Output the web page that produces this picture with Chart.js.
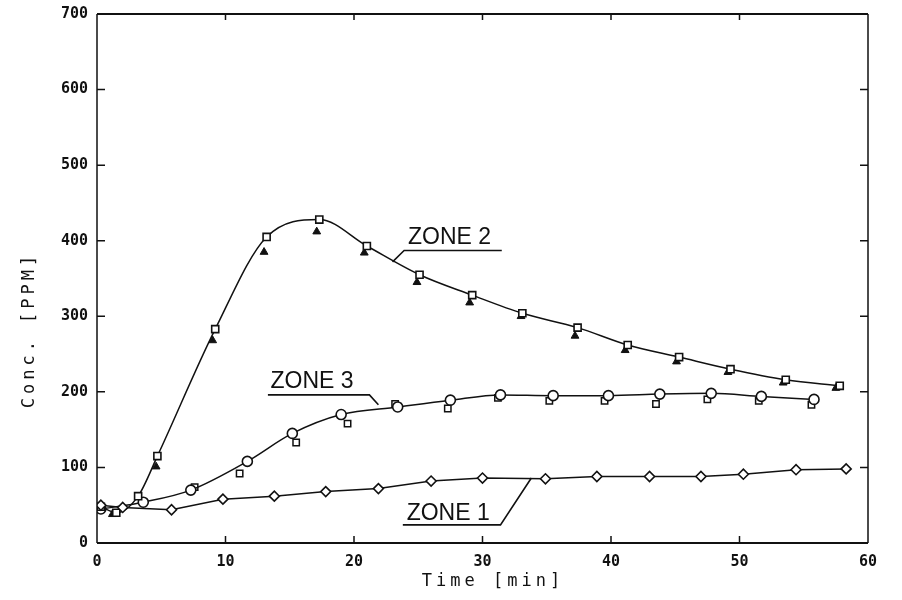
<!DOCTYPE html>
<html>
<head>
<meta charset="utf-8">
<script src="https://cdn.jsdelivr.net/npm/chart.js@4"></script>
<style>
  html, body { margin: 0; padding: 0; background: #fff; }
  #wrap { width: 902px; height: 600px; }
</style>
</head>
<body>
<div id="wrap"><canvas id="conc"></canvas></div>
<script>
// time (min) and concentration (ppm)
const timeZone1 = [0.3, 2.0, 5.8, 9.8, 13.8, 17.8, 21.9, 26.0, 30.0, 34.9, 38.9, 43.0, 47.0, 50.3, 54.4, 58.3];
const concZone1 = [50, 47, 44, 58, 62, 68, 72, 82, 86, 85, 88, 88, 88, 91, 97, 98];

const timeZone2 = [0.3, 1.5, 3.2, 4.7, 9.2, 13.2, 17.3, 21.0, 25.1, 29.2, 33.1, 37.4, 41.3, 45.3, 49.3, 53.6, 57.8];
const concZone2 = [48, 40, 62, 115, 283, 405, 428, 393, 355, 328, 304, 285, 262, 246, 230, 216, 208];
const timeZone2b = [1.2, 4.6, 9.0, 13.0, 17.1, 20.8, 24.9, 29.0, 33.0, 37.2, 41.1, 45.1, 49.1, 53.4, 57.5];
const concZone2b = [38, 101, 268, 385, 412, 384, 345, 318, 300, 274, 255, 240, 226, 212, 205];

const timeZone3 = [0.3, 3.6, 7.3, 11.7, 15.2, 19.0, 23.4, 27.5, 31.4, 35.5, 39.8, 43.8, 47.8, 51.7, 55.8];
const concZone3 = [45, 54, 70, 108, 145, 170, 180, 189, 196, 195, 195, 197, 198, 194, 190];
const timeZone3b = [7.6, 11.1, 15.5, 19.5, 23.2, 27.3, 31.2, 35.2, 39.5, 43.5, 47.5, 51.5, 55.6];
const concZone3b = [74, 92, 133, 158, 184, 178, 192, 188, 188, 184, 190, 188, 183];

const xTicks = [0, 10, 20, 30, 40, 50, 60];
const yTicks = [0, 100, 200, 300, 400, 500, 600, 700];

// label text, anchor (data units) and leader line (data units)
const zoneLabels = [
  { text: 'ZONE 2', x: 24.2, y: 396, line: [[31.5, 387], [23.9, 387], [23.0, 372]] },
  { text: 'ZONE 3', x: 13.5, y: 205, line: [[13.3, 196], [21.2, 196], [21.9, 183]] },
  { text: 'ZONE 1', x: 24.1, y: 30, line: [[23.8, 24], [31.4, 24], [33.8, 86]] }
];

const pts = (xs, ys) => xs.map((x, i) => ({ x: x, y: ys[i] }));

const framePlugin = {
  id: 'frame',
  afterDraw(chart) {
    const ctx = chart.ctx;
    const a = chart.chartArea;
    const xs = chart.scales.x, ys = chart.scales.y;
    ctx.save();
    ctx.strokeStyle = '#111';
    ctx.lineWidth = 2;
    ctx.beginPath();
    ctx.moveTo(a.left, a.top); ctx.lineTo(a.right, a.top);
    ctx.moveTo(a.left, a.bottom); ctx.lineTo(a.right, a.bottom);
    ctx.stroke();
    ctx.lineWidth = 1.5;
    ctx.beginPath();
    ctx.moveTo(a.left, a.top); ctx.lineTo(a.left, a.bottom);
    ctx.moveTo(a.right, a.top); ctx.lineTo(a.right, a.bottom);
    ctx.stroke();
    // inward ticks
    ctx.lineWidth = 1.5;
    ctx.beginPath();
    xTicks.slice(1, -1).forEach(v => {
      const px = xs.getPixelForValue(v);
      ctx.moveTo(px, a.bottom); ctx.lineTo(px, a.bottom - 7);
      ctx.moveTo(px, a.top); ctx.lineTo(px, a.top + 6);
    });
    yTicks.slice(1, -1).forEach(v => {
      const py = ys.getPixelForValue(v);
      ctx.moveTo(a.left, py); ctx.lineTo(a.left + 8, py);
      ctx.moveTo(a.right, py); ctx.lineTo(a.right - 8, py);
    });
    ctx.stroke();

    // zone labels
    ctx.font = '23px "Liberation Sans", Arial, sans-serif';
    ctx.fillStyle = '#111';
    ctx.textBaseline = 'alphabetic';
    ctx.lineWidth = 1.6;
    zoneLabels.forEach(l => {
      ctx.fillText(l.text, xs.getPixelForValue(l.x), ys.getPixelForValue(l.y));
      ctx.beginPath();
      l.line.forEach((p, i) => {
        const px = xs.getPixelForValue(p[0]), py = ys.getPixelForValue(p[1]);
        if (i === 0) ctx.moveTo(px, py); else ctx.lineTo(px, py);
      });
      ctx.stroke();
    });

    // axis titles
    ctx.font = '17px "DejaVu Sans Mono", monospace';
    ctx.letterSpacing = '4px';
    ctx.textAlign = 'center';
    ctx.textBaseline = 'middle';
    ctx.fillText('Time [min]', 493, 582);
    ctx.translate(30, 330);
    ctx.rotate(-Math.PI / 2);
    ctx.fillText('Conc. [PPM]', 0, 0);
    ctx.restore();
  }
};

const lineStyle = {
  borderColor: '#111',
  borderWidth: 1.5,
  pointBorderColor: '#111',
  pointBackgroundColor: '#fff',
  pointBorderWidth: 1.6,
  showLine: true
};

const tickFont = { family: 'DejaVu Sans Mono', size: 15, weight: 'bold' };

const chart = new Chart(document.getElementById('conc'), {
  type: 'scatter',
  data: {
    datasets: [
      Object.assign({ label: 'ZONE 1', data: pts(timeZone1, concZone1), pointStyle: 'rectRot', pointRadius: 5, tension: 0 }, lineStyle),
      Object.assign({ label: 'ZONE 2', data: pts(timeZone2, concZone2), pointStyle: 'rect', pointRadius: 5, cubicInterpolationMode: 'monotone' }, lineStyle),
      { label: 'ZONE 2 (b)', data: pts(timeZone2b, concZone2b), pointStyle: 'triangle', pointRadius: 4.5,
        pointBackgroundColor: '#111', pointBorderColor: '#111', showLine: false },
      Object.assign({ label: 'ZONE 3', data: pts(timeZone3, concZone3), pointStyle: 'circle', pointRadius: 5, cubicInterpolationMode: 'monotone' }, lineStyle),
      { label: 'ZONE 3 (b)', data: pts(timeZone3b, concZone3b), pointStyle: 'rect', pointRadius: 4.5,
        pointBackgroundColor: '#fff', pointBorderColor: '#111', pointBorderWidth: 1.5, showLine: false }
    ]
  },
  options: {
    responsive: true,
    maintainAspectRatio: false,
    animation: false,
    layout: { padding: { top: 14, right: 34, left: 0, bottom: 0 } },
    plugins: { legend: { display: false }, tooltip: { enabled: false } },
    scales: {
      x: {
        type: 'linear', min: 0, max: 60,
        afterBuildTicks: s => { s.ticks = xTicks.map(v => ({ value: v })); },
        afterFit: s => { s.height = 57; },
        grid: { display: false },
        border: { display: false },
        ticks: { color: '#111', padding: 2, font: tickFont }
      },
      y: {
        type: 'linear', min: 0, max: 700,
        afterBuildTicks: s => { s.ticks = yTicks.map(v => ({ value: v })); },
        afterFit: s => { s.width = 97; },
        grid: { display: false },
        border: { display: false },
        ticks: { color: '#111', padding: 1, font: tickFont }
      }
    }
  },
  plugins: [framePlugin]
});
</script>
</body>
</html>
